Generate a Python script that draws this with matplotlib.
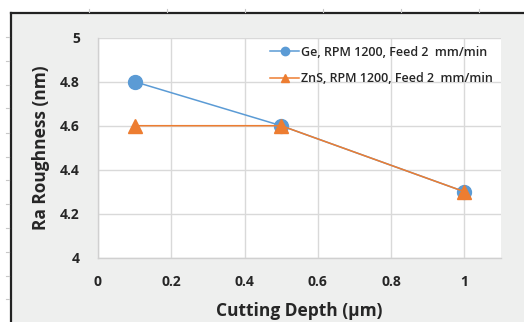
import matplotlib
matplotlib.use("Agg")
import matplotlib.pyplot as plt
from matplotlib.lines import Line2D
from matplotlib.patches import Rectangle

depth = [0.1, 0.5, 1.0]
ge_ra = [4.8, 4.6, 4.3]
zns_ra = [4.6, 4.6, 4.3]
ge_label = "Ge, RPM 1200, Feed 2  mm/min"
zns_label = "ZnS, RPM 1200, Feed 2  mm/min"
xticks = [0, 0.2, 0.4, 0.6, 0.8, 1.0]
xticklabels = ["0", "0.2", "0.4", "0.6", "0.8", "1"]
yticks = [4, 4.2, 4.4, 4.6, 4.8, 5]
yticklabels = ["4", "4.2", "4.4", "4.6", "4.8", "5"]

W, H = 524, 322
fig = plt.figure(figsize=(W / 100, H / 100), dpi=100)
fig.patch.set_facecolor("white")

def fx(px):
    return px / W

def fy(py):
    return 1 - py / H

FONT = "Open Sans"

# grey chart background inside frame
fig.add_artist(Rectangle((fx(11), 0), 1 - fx(11), fy(13), transform=fig.transFigure,
                         facecolor="#eeefee", edgecolor="none", zorder=0))
# black frame lines
fig.add_artist(Line2D([fx(11), fx(11)], [0, fy(13)], transform=fig.transFigure,
                      color="#222222", lw=1.6, zorder=1))
fig.add_artist(Line2D([fx(11), 1], [fy(13), fy(13)], transform=fig.transFigure,
                      color="#222222", lw=1.6, zorder=1))
# ruler ticks outside
for px in [89, 167, 245, 323, 401, 479]:
    fig.add_artist(Line2D([fx(px), fx(px)], [fy(9), fy(12)], transform=fig.transFigure,
                          color="#c8c8c8", lw=0.8))
for py in [37, 61, 85, 108, 133, 157, 180, 204, 228, 252, 276, 299]:
    fig.add_artist(Line2D([fx(6), fx(9)], [fy(py), fy(py)], transform=fig.transFigure,
                          color="#c8c8c8", lw=0.8))

ax = fig.add_axes([fx(98), fy(257.7), fx(501) - fx(98), fy(37.7) - fy(257.7)])
ax.set_facecolor("white")
ax.set_xlim(0, 1.1)
ax.set_ylim(4, 5)
ax.set_xticks(xticks)
ax.set_yticks(yticks)
tickfont = dict(family=FONT, weight="bold", size=10, color="#262626")
ax.set_xticklabels(xticklabels, **tickfont)
ax.set_yticklabels(yticklabels, **tickfont)
ax.tick_params(axis="x", length=0, pad=12.5)
ax.tick_params(axis="y", length=0, pad=13)
ax.grid(True, color="#d9d9d9", lw=1.0)
ax.set_axisbelow(True)
for s in ["top", "right"]:
    ax.spines[s].set_visible(False)
for s in ["left", "bottom"]:
    ax.spines[s].set_color("#d0d0d0")
    ax.spines[s].set_linewidth(1.0)

ax.plot(depth, ge_ra, color="#5b9bd5", lw=1.1, marker="o", markersize=10,
        label=ge_label, zorder=3)
ax.plot(depth, zns_ra, color="#ed7d31", lw=1.1, marker="^", markersize=9.5,
        label=zns_label, zorder=4)

labfont = dict(family=FONT, weight="bold", size=12.5, color="#262626")
ax.set_xlabel("Cutting Depth (μm)", labelpad=9, **labfont)
ax.set_ylabel("Ra Roughness (nm)", labelpad=7, **labfont)

leg = ax.legend(loc="upper right", bbox_to_anchor=(1.0, 1.0), frameon=False,
                prop=dict(family=FONT, size=9, weight="semibold"),
                markerscale=0.6, handlelength=2.3, handletextpad=0.15,
                labelspacing=1.05, borderaxespad=0.25)
for t in leg.get_texts():
    t.set_color("#262626")

fig.savefig("out.png", dpi=100)
